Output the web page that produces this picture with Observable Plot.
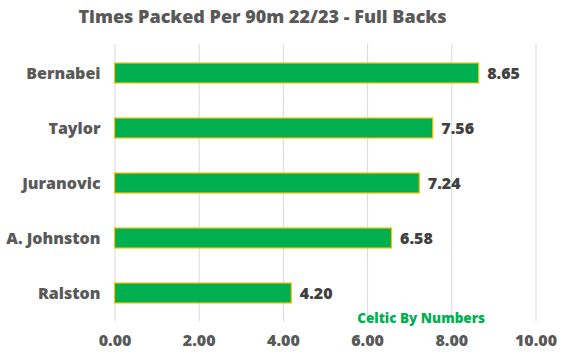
<!DOCTYPE html>
<html>
<head>
<meta charset="utf-8">
<script src="https://cdn.jsdelivr.net/npm/d3@7"></script>
<script src="https://cdn.jsdelivr.net/npm/@observablehq/plot@0.6"></script>
<style>
  html, body { margin: 0; padding: 0; background: #fff; }
  #chart svg { display: block; }
</style>
</head>
<body>
<div id="chart"></div>
<script>
const title = "Times Packed Per 90m 22/23 - Full Backs";
const credit = "Celtic By Numbers";
const players = ["Bernabei", "Taylor", "Juranovic", "A. Johnston", "Ralston"];
const values = [8.65, 7.56, 7.24, 6.58, 4.20];
const xTicks = [0, 2, 4, 6, 8, 10];

const data = players.map((p, i) => ({player: p, value: values[i]}));
const font = "'Open Sans', 'DejaVu Sans', sans-serif";

const chart = Plot.plot({
  width: 566,
  height: 358,
  marginLeft: 114.5,
  marginRight: 30.5,
  marginTop: 44,
  marginBottom: 36.5,
  style: {fontFamily: font, background: "#fff", overflow: "visible"},
  x: {domain: [0, 10], ticks: xTicks, tickFormat: d => d.toFixed(2)},
  y: {domain: players, paddingInner: 0.64, paddingOuter: 0.32},
  marks: [
    Plot.gridX(xTicks, {stroke: "#d9d9d9", strokeOpacity: 1, strokeWidth: 1}),
    Plot.barX(data, {x: "value", y: "player", fill: "#00B050", stroke: "#FFC000", strokeWidth: 1.2}),
    Plot.text(data, {x: "value", y: "player", text: d => d.value.toFixed(2), textAnchor: "start", dx: 8, fill: "#404040", fontSize: 16, fontWeight: 800}),
    Plot.axisX({ticks: xTicks, tickSize: 0, tickPadding: 13, fontSize: 16, fontWeight: 800, fill: "#595959", tickFormat: d => d.toFixed(2), label: null}),
    Plot.axisY({tickSize: 0, tickPadding: 14.5, fontSize: 16, fontWeight: 800, fill: "#595959", label: null}),
    Plot.text([credit], {frameAnchor: "bottom-right", textAnchor: "end", lineAnchor: "middle", dx: -51, dy: -3, fill: "#00B050", fontSize: 13.5, fontWeight: 800}),
    Plot.text([title], {frameAnchor: "top", lineAnchor: "middle", dx: -63, dy: -27, fill: "#595959", fontSize: 18, fontWeight: 800, letterSpacing: "-0.2px"})
  ]
});
document.getElementById("chart").append(chart);
</script>
</body>
</html>
